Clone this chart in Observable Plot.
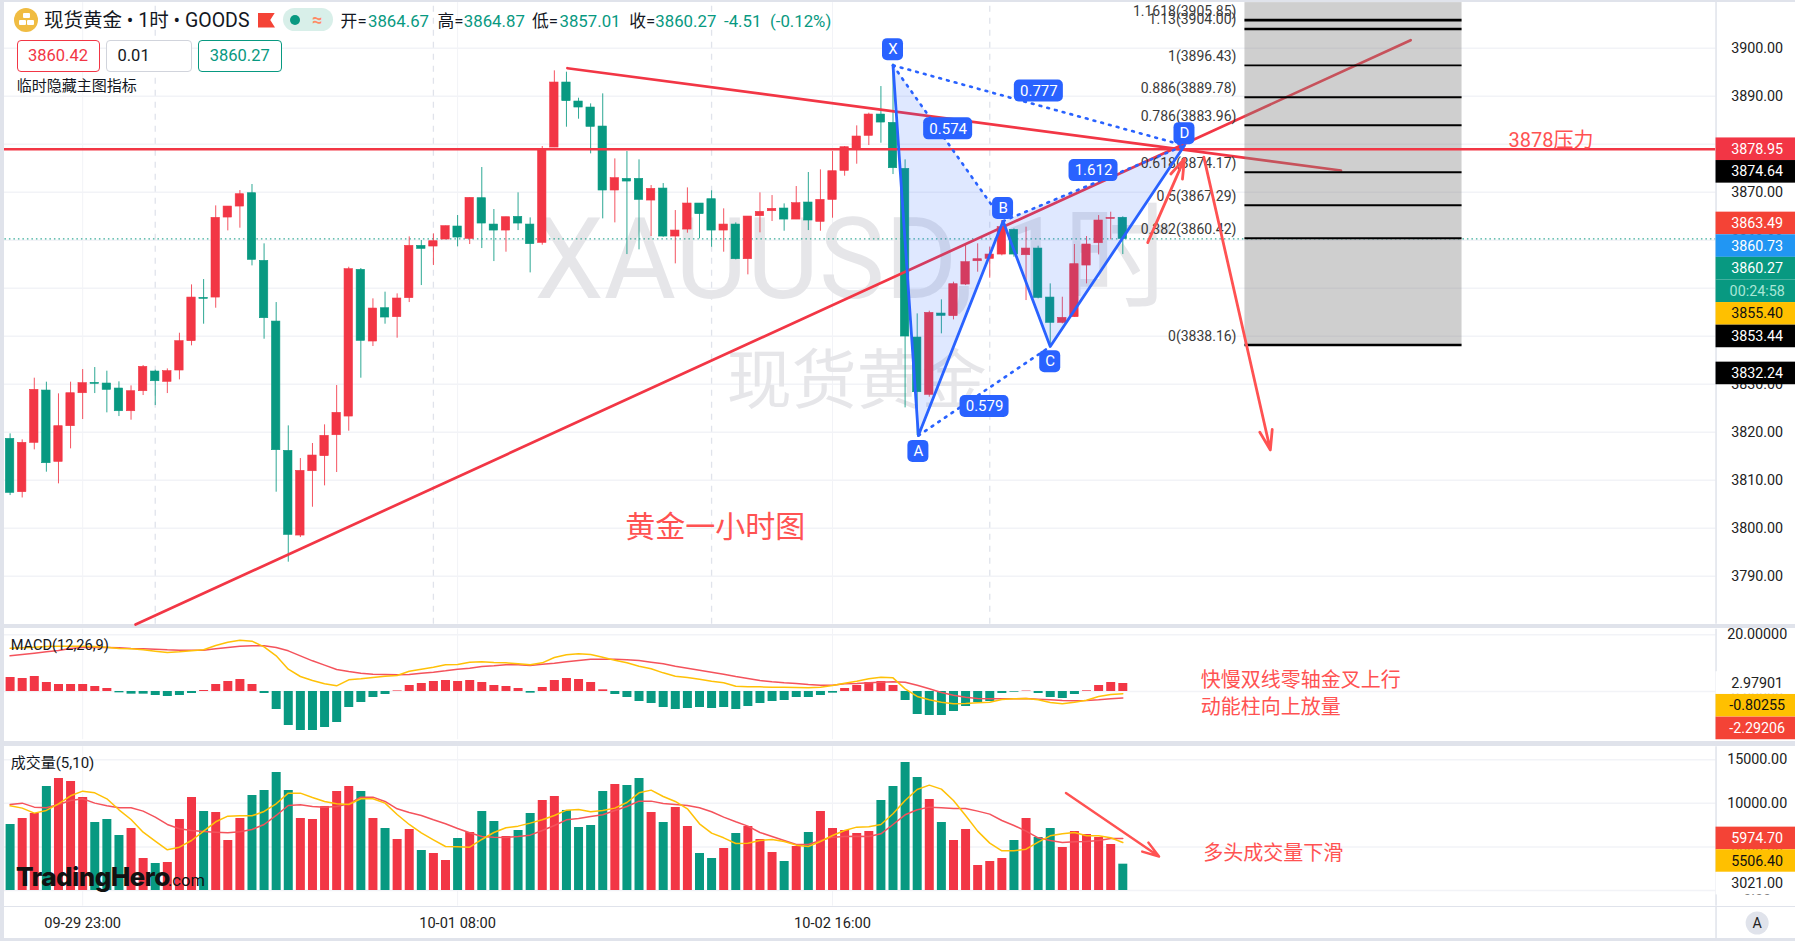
<!DOCTYPE html>
<html>
<head>
<meta charset="utf-8">
<script src="https://cdn.jsdelivr.net/npm/d3@7"></script>
<script src="https://cdn.jsdelivr.net/npm/@observablehq/plot@0.6"></script>
<style>
html,body{margin:0;padding:0;background:#e0e3eb;overflow:hidden}
#stage{position:relative;width:1795px;height:941px;overflow:hidden;font-family:Roboto,"Noto Sans CJK SC",sans-serif}
#stage svg{position:absolute;left:0;max-width:none;background:#fff}
.h{position:absolute;white-space:pre;line-height:1;transform:translateY(-50%)}
.b{position:absolute;box-sizing:border-box;background:#fff;border-radius:4px;font-size:16.5px;line-height:29px;text-align:center}
</style>
</head>
<body>
<div id="stage"></div>
<script>
// ---------- candles (XAUUSD, 1h) ----------
const open = [3818.61,3807.50,3817.78,3828.68,3813.82,3821.25,3828.12,3830.28,3830.14,3829.10,
3824.37,3828.54,3832.64,3830.49,3832.85,3838.96,3847.99,3848.05,3864.72,3867.01,
3869.79,3855.69,3843.05,3816.11,3798.47,3811.87,3815.00,3819.37,3823.26,3853.82,
3838.89,3845.83,3843.96,3847.92,3858.82,3858.68,3860.14,3862.85,3860.28,3868.75,
3863.26,3862.01,3864.86,3863.26,3859.44,3879.30,3892.85,3888.89,3887.64,3883.68,
3870.35,3872.78,3872.78,3868.26,3870.76,3860.76,3862.22,3867.64,3868.54,3862.01,
3863.26,3856.04,3865.00,3866.04,3866.60,3864.30,3867.85,3863.82,3868.40,3874.44,
3879.03,3881.74,3886.18,3884.44,3874.86,3839.72,3827.78,3844.72,3844.17,3850.76,
3855.62,3856.11,3857.01,3862.15,3856.87,3858.26,3848.05,3842.78,3843.96,3854.72,
3859.37,3864.44,3864.67];
const close = [3807.36,3817.78,3828.82,3813.54,3821.25,3828.12,3830.21,3830.07,3828.82,3824.37,
3828.54,3833.61,3830.62,3832.71,3838.96,3848.05,3847.78,3864.65,3867.01,3869.58,
3855.90,3843.75,3816.25,3798.61,3811.94,3815.14,3819.24,3824.03,3853.96,3839.03,
3845.76,3843.89,3847.85,3858.82,3858.19,3859.79,3862.92,3860.55,3868.82,3863.47,
3862.01,3864.79,3863.47,3859.17,3878.89,3892.85,3888.96,3887.64,3883.61,3870.35,
3872.92,3872.22,3868.40,3870.69,3860.76,3862.01,3867.64,3865.42,3862.01,3863.26,
3856.04,3864.93,3865.90,3866.53,3864.30,3867.71,3864.10,3868.40,3874.37,3879.37,
3881.60,3886.18,3884.51,3875.00,3839.93,3828.33,3844.86,3844.24,3850.83,3855.42,
3856.04,3857.01,3862.71,3857.01,3858.26,3847.99,3842.78,3843.82,3855.00,3859.10,
3864.10,3864.65,3860.27];
const high = [3819.65,3818.40,3831.25,3830.42,3827.99,3830.42,3833.05,3833.47,3832.71,3830.49,
3829.65,3833.89,3832.92,3833.19,3840.62,3850.69,3851.80,3867.15,3867.01,3870.35,
3871.60,3859.24,3847.01,3821.32,3814.51,3817.64,3821.53,3829.72,3854.37,3854.10,
3847.78,3849.17,3848.82,3860.69,3859.93,3861.32,3862.92,3865.14,3868.82,3875.14,
3866.39,3864.79,3869.86,3864.65,3879.51,3895.28,3895.00,3889.58,3888.40,3890.49,
3876.94,3878.47,3876.74,3871.39,3871.80,3866.18,3870.90,3867.64,3870.28,3866.53,
3863.61,3864.93,3869.86,3869.30,3867.57,3871.18,3874.10,3874.65,3878.47,3879.51,
3883.82,3886.46,3892.01,3896.74,3876.74,3844.65,3845.21,3847.57,3851.25,3858.89,
3859.24,3858.54,3864.10,3862.36,3862.71,3858.75,3850.90,3848.12,3859.10,3860.76,
3865.14,3865.83,3864.87];
const low = [3806.80,3806.30,3816.32,3811.67,3809.24,3816.53,3822.64,3828.05,3824.03,3823.26,
3822.50,3827.64,3825.55,3828.05,3830.90,3837.99,3842.50,3845.83,3861.94,3862.50,
3854.65,3839.37,3807.50,3792.92,3798.05,3804.37,3808.82,3811.60,3820.21,3831.25,
3837.85,3842.50,3839.58,3847.01,3850.55,3854.72,3860.14,3858.61,3859.10,3858.26,
3855.55,3857.50,3862.01,3853.19,3858.96,3879.30,3883.54,3885.21,3877.99,3864.44,
3863.61,3857.01,3857.99,3860.76,3860.62,3855.07,3861.46,3860.28,3858.54,3857.50,
3855.90,3852.78,3861.53,3863.89,3861.87,3864.30,3862.01,3861.87,3864.58,3873.33,
3875.83,3879.72,3880.21,3873.68,3825.07,3819.30,3827.29,3840.49,3843.40,3850.55,
3853.33,3852.08,3856.74,3856.46,3847.43,3847.78,3838.05,3842.57,3843.96,3850.90,
3856.94,3860.07,3857.01];
// ---------- MACD(12,26,9) ----------
const macdHist = [4.94,4.59,5.29,3.17,2.47,2.47,2.47,1.76,1.06,-0.47,
-0.94,-0.94,-1.41,-1.76,-1.41,-0.71,0.35,2.47,3.53,4.23,
2.47,-0.71,-6.35,-11.99,-13.76,-13.76,-12.70,-10.93,-5.64,-3.88,
-2.12,-1.06,0.20,2.12,2.82,3.53,3.88,3.53,3.88,3.17,
2.12,1.76,1.06,-0.59,1.41,3.88,4.59,4.23,3.17,0.59,
-1.06,-2.12,-3.53,-4.23,-5.64,-6.35,-6.00,-5.64,-6.00,-5.64,
-6.35,-5.29,-4.23,-3.53,-3.17,-2.12,-2.12,-1.41,-0.59,1.06,
2.12,3.17,3.53,2.12,-3.17,-8.11,-8.47,-8.47,-7.05,-5.29,
-3.88,-3.53,-0.71,-0.24,0.15,-0.71,-2.12,-2.47,-1.06,0.24,
2.12,3.17,2.82];
const macdDif = [15.29,15.40,15.64,15.87,15.99,15.99,15.99,15.87,15.64,15.17,
15.05,14.70,14.23,13.76,13.99,14.34,14.70,16.23,17.40,18.11,
17.75,15.76,12.58,7.88,5.29,3.88,2.70,2.00,4.12,4.47,
4.94,5.41,5.64,7.17,7.88,8.58,9.41,9.52,10.35,10.46,
10.23,10.11,9.76,9.41,10.11,11.99,12.93,13.29,13.05,12.11,
11.05,10.11,8.94,8.00,6.58,5.41,4.94,4.35,3.64,3.06,
1.88,1.65,1.65,1.53,1.53,1.41,1.29,1.53,2.12,2.94,
3.64,4.47,5.06,4.82,0.94,-1.76,-2.94,-3.76,-4.35,-4.23,
-4.00,-3.76,-2.82,-2.59,-2.47,-2.94,-3.88,-4.35,-3.76,-3.06,
-1.76,-1.06,-0.80];
const macdDea = [12.58,13.05,13.52,13.99,14.46,15.17,15.52,15.64,15.52,15.40,
15.17,15.05,14.93,14.70,14.58,14.58,14.58,15.05,15.52,15.99,
16.11,16.11,15.52,14.34,12.58,10.82,9.29,7.76,7.05,6.47,
6.11,6.00,5.88,6.00,6.47,6.82,7.29,7.88,8.23,8.82,
9.05,9.41,9.41,9.17,9.64,9.99,10.46,10.93,11.41,11.41,
11.41,11.17,10.93,10.35,9.76,8.94,8.23,7.53,6.82,6.11,
5.29,4.59,3.88,3.41,3.06,2.82,2.47,2.23,2.23,2.70,
2.82,3.06,3.29,3.41,3.29,2.23,0.94,-0.35,-1.29,-2.00,
-2.47,-2.59,-2.59,-2.59,-2.47,-2.70,-2.94,-3.17,-3.29,-3.17,
-2.94,-2.59,-2.29];
// ---------- volume(5,10) ----------
const volume = [7577,8266,8840,11940,12859,12514,10677,7807,8152,6315,
7118,3674,3100,3215,8152,10677,9070,8955,5741,8266,
10907,11481,13548,11481,8266,8152,9644,11366,11940,11366,
8266,7118,5855,7003,4592,4248,3444,5970,6659,9070,
7922,6200,6889,8840,10333,10792,9185,7233,7463,11366,
12170,12055,12859,8955,7807,9529,7348,4248,3674,4822,
6544,7348,5855,4363,3329,5052,6659,9070,7118,6889,
6544,6774,10333,11940,14696,12974,10448,7807,5741,7003,
2870,3329,3674,5741,8266,6085,7118,4937,6774,6429,
6085,5281,3021];
const volMa5 = [9721,9453,8879,9185,9950,10869,11404,11213,10524,9261,
8152,6697,5664,4669,4975,5741,6812,7884,8534,8572,
8572,9070,9950,11175,11175,10677,10218,9950,9874,10524,
10524,10027,8726,7577,6621,5817,5052,5013,4975,5855,
6659,7195,7386,7731,8113,8611,9223,9300,9032,9185,
9453,10103,11213,11519,10792,10218,9376,7654,6582,6047,
5396,5434,5741,5855,5626,5205,5052,5626,6315,6889,
7271,7310,7577,8802,10333,11596,12093,11634,10333,8611,
6812,5434,4554,4554,4745,5549,6276,6506,6659,6276,
6276,6047,5506.4];
const volMa10 = [9874,10027,9568,9491,9874,10333,10524,10027,9721,9491,
9491,9108,8419,7577,7080,6889,6774,6697,6621,6736,
7003,7577,8611,9759,9835,9644,9568,9644,9950,10716,
10716,10218,9376,8955,8611,8113,7654,7118,6621,6200,
6123,6085,6200,6353,6889,7463,8113,8266,8496,8687,
9185,9644,10256,10256,9988,9874,9759,9491,9032,8419,
7884,7386,6659,6200,5741,5281,5281,5741,6123,6200,
6238,6200,6506,7577,8687,9261,9568,9491,9414,9414,
9108,8764,8037,7463,6812,6047,5741,5511,5587,5626,
5741,5970,5974.7];
// ---------- annotations ----------
const fibRatio = ["1.1618","1.13","1","0.886","0.786","0.618","0.5","0.382","0"];
const fibPrice = [3905.85,3904.00,3896.43,3889.78,3883.96,3874.17,3867.29,3860.42,3838.16];
const patternName = ["X","A","B","C","D"];
const patternBar = [73,75.1,82.1,86,97.1];
const patternPrice = [3896.43,3819.3,3863.96,3837.85,3879.73];
const patternTagPrice = [3899.7,3816,3866.6,3834.7,3882.2];
const ratioText = ["0.777","0.574","1.612","0.579"];
const ratioBar = [85.06,77.56,89.58,80.57];
const ratioPrice = [3891.1,3883.2,3874.5,3825.35];
const timeBars = [6,37,68];
const timeLabels = ["09-29 23:00","10-01 08:00","10-02 16:00"];
const sessionBars = [12,35,58,81];
const priceTicks = [3900,3890,3880,3870,3860,3850,3840,3830,3820,3810,3800,3790];
const mainTagValue = [3878.95,3874.64,3863.49,3860.73,3860.27,3860.27,3855.40,3853.44,3832.24];
const mainTagText = ["3878.95","3874.64","3863.49","3860.73","3860.27","00:24:58","3855.40","3853.44","3832.24"];
const mainTagFill = ["#f23645","#000000","#f44336","#2196f3","#089981","#089981","#ffc000","#000000","#000000"];
const mainTagInk = ["#fff","#fff","#fff","#fff","#fff","#a8e6d6","#111","#fff","#fff"];
const macdTagValue = [2.97901,-0.80255,-2.29206];
const macdTagText = ["2.97901","-0.80255","-2.29206"];
const macdTagFill = ["#ffffff","#ffc000","#f44336"];
const macdTagInk = ["#222","#111","#fff"];
const volTagValue = [5974.70,5506.40,3021.00];
const volTagText = ["5974.70","5506.40","3021.00"];
const volTagFill = ["#f44336","#ffc000","#ffffff"];
const volTagInk = ["#fff","#111","#222"];

[open,close,high,low,macdHist,macdDif,macdDea,volume,volMa5,volMa10].forEach((a,k)=>{ if(a.length!==93) throw new Error("series "+k+" has "+a.length); });

// ---------- helpers ----------
const RED="#f23645", GREEN="#089981", NOTE="#ff5252", BLUE="#2962ff", GRID="#f2f3f7", AXIS="#e0e3eb", AMBER="#ffc107";
const FONT='Roboto,"Noto Sans CJK SC",sans-serif';
const stage=document.getElementById("stage");
const bars=d3.range(93).map(i=>({i,o:open[i],c:close[i],h:high[i],l:low[i],up:close[i]>=open[i],
  hist:macdHist[i],dif:macdDif[i],dea:macdDea[i],v:volume[i],m5:volMa5[i],m10:volMa10[i]}));
const hue=d=>d.up?RED:GREEN;
const xScale={type:"linear",domain:[0,92],range:[9.6,1122.3],axis:null};
const paneEnd=141.05, paneStart=-0.8, tagMid=144.45, frameEnd=148;
function plot(top,height,y,marks){
  const svg=Plot.plot({width:1795,height,marginTop:0,marginBottom:0,marginLeft:0,marginRight:0,
    x:xScale,y:{type:"linear",axis:null,...y},
    style:{fontFamily:FONT,background:"#fff",overflow:"visible"},marks});
  svg.style.top=top+"px"; stage.appendChild(svg); return svg;
}
function stacked(values,step){let prev=Infinity;return values.map(v=>(prev=Math.min(v,prev-step)));}
function tags(values,texts,fills,inks,step){
  const ys=stacked(values,step), t=values.map((v,k)=>({y:ys[k],text:texts[k],fill:fills[k],ink:inks[k]}));
  return [
    Plot.rect(t,{x1:paneEnd,x2:frameEnd,y1:"y",y2:"y",insetTop:-11.3,insetBottom:-11.3,fill:"fill"}),
    Plot.text(t,{x:tagMid,y:"y",text:"text",fill:"ink",fontSize:14.3})
  ];
}
const ident=d=>d;
function paneGuides(grid,ymin,ymax){
  return [
    Plot.ruleY(grid,{y:ident,x1:paneStart,x2:paneEnd,stroke:GRID,strokeWidth:1.5}),
    Plot.ruleX(timeBars,{x:ident,y1:ymin,y2:ymax,stroke:GRID,strokeWidth:1})
  ];
}
const axisLine=(a,b)=>Plot.ruleX([paneEnd],{x:ident,y1:a,y2:b,stroke:AXIS,strokeWidth:1.5});

// ---------- main pane ----------
const yMain={domain:[3900,3800],range:[47.7,527.7]};
const fibs=fibPrice.map((p,k)=>({p,label:`${fibRatio[k]}(${p.toFixed(2)})`,w:k<2?2.6:(k===8?2.4:1.9)}));
const pts=patternName.map((n,k)=>({n,x:patternBar[k],y:patternPrice[k],ty:patternTagPrice[k]}));
const ratios=ratioText.map((t,k)=>({t,x:ratioBar[k],y:ratioPrice[k]}));
const [X,A,B,C,D]=pts;
const mainSvg=plot(0,624,yMain,[
  ...paneGuides(priceTicks,3780,3909.5),
  Plot.ruleX(sessionBars,{x:ident,y1:3780,y2:3909.5,stroke:AXIS,strokeWidth:1.3,strokeDasharray:"6 6"}),
  Plot.text(["XAUUSD, 1时"],{x:69.8,y:3855.6,text:ident,fontSize:114,fill:"#e6e6e9"}),
  Plot.text(["现货黄金"],{x:70,y:3830.5,text:ident,fontSize:65,fill:"#e6e6e9"}),
  Plot.ruleY([close[92]],{y:ident,x1:paneStart,x2:paneEnd,stroke:GREEN,strokeWidth:1,strokeDasharray:"1.5 3"}),
  Plot.ruleX(bars,{x:"i",y1:"l",y2:"h",stroke:hue,strokeWidth:1,strokeOpacity:.85}),
  Plot.rect(bars,{x1:"i",x2:"i",y1:"o",y2:"c",insetLeft:-4.2,insetRight:-4.2,fill:hue,stroke:hue,strokeWidth:.6}),
  Plot.line([{x:46.08,y:3895.83},{x:110.04,y:3874.52}],{x:"x",y:"y",stroke:RED,strokeWidth:2.7}),
  Plot.line([{x:10.37,y:3779.94},{x:115.8,y:3901.67}],{x:"x",y:"y",stroke:RED,strokeWidth:2.7}),
  Plot.line([X,A,B],{x:"x",y:"y",fill:BLUE,fillOpacity:.15,stroke:"none"}),
  Plot.line([B,C,D],{x:"x",y:"y",fill:BLUE,fillOpacity:.15,stroke:"none"}),
  Plot.rect([0],{x1:102.1,x2:120.05,y1:3838.16,y2:3909.5,fill:"#808080",fillOpacity:.38}),
  Plot.ruleY(fibs,{y:"p",x1:102.1,x2:120.05,stroke:"#000",strokeWidth:"w"}),
  Plot.text(fibs,{x:101.4,y:"p",dy:-9,text:"label",textAnchor:"end",fontSize:14,fill:"#3a3a3a"}),
  Plot.ruleY([mainTagValue[0]],{y:ident,x1:paneStart,x2:paneEnd,stroke:RED,strokeWidth:2.6}),
  ...[[X,B],[X,D],[A,C],[B,D]].map(seg=>Plot.line(seg,{x:"x",y:"y",stroke:BLUE,strokeWidth:2.6,strokeDasharray:"1.8 6.2"})),
  Plot.line(pts,{x:"x",y:"y",stroke:BLUE,strokeWidth:2.8}),
  Plot.rect(pts,{x1:"x",x2:"x",y1:"ty",y2:"ty",insetLeft:-10.5,insetRight:-10.5,insetTop:-11,insetBottom:-11,fill:BLUE,rx:5}),
  Plot.text(pts,{x:"x",y:"ty",text:"n",fill:"#fff",fontSize:15}),
  Plot.rect(ratios,{x1:"x",x2:"x",y1:"y",y2:"y",insetLeft:-24.5,insetRight:-24.5,insetTop:-11,insetBottom:-11,fill:BLUE,rx:5}),
  Plot.text(ratios,{x:"x",y:"y",text:"t",fill:"#fff",fontSize:15}),
  Plot.arrow([{x1:94.06,y1:3859.5,x2:97.1,y2:3877.0}],{x1:"x1",y1:"y1",x2:"x2",y2:"y2",bend:0,stroke:NOTE,strokeWidth:2.8,headLength:11,headAngle:36}),
  Plot.arrow([{x1:98.7,y1:3877.3,x2:104.2,y2:3816.3}],{x1:"x1",y1:"y1",x2:"x2",y2:"y2",bend:0,stroke:NOTE,strokeWidth:2.8,headLength:11,headAngle:36}),
  Plot.text(["3878压力"],{x:123.9,y:3880.7,text:ident,textAnchor:"start",fontSize:20,fill:NOTE}),
  Plot.text(["黄金一小时图"],{x:58.3,y:3800.1,text:ident,fontSize:30,fill:NOTE}),
  axisLine(3780,3909.5),
  Plot.text(priceTicks,{x:tagMid,y:ident,text:d=>d.toFixed(2),fontSize:14.3,fill:"#222"}),
  ...tags(mainTagValue,mainTagText,mainTagFill,mainTagInk,22.6/4.8)
]);
const wm=[...mainSvg.querySelectorAll("text")].find(t=>t.textContent.startsWith("XAUUSD"));
if(wm){wm.setAttribute("textLength",640);wm.setAttribute("lengthAdjust","spacingAndGlyphs");}

// ---------- MACD pane ----------
plot(628,113,{domain:[0,20],range:[63,6.3]},[
  ...paneGuides([20,0],-17,22),
  Plot.ruleX(bars,{x:"i",y1:0,y2:"hist",stroke:d=>d.hist>=0?RED:GREEN,strokeWidth:9}),
  Plot.line(bars,{x:"i",y:"dea",stroke:"#f4535c",strokeWidth:1.5}),
  Plot.line(bars,{x:"i",y:"dif",stroke:AMBER,strokeWidth:1.5}),
  Plot.text(["快慢双线零轴金叉上行"],{x:98.45,y:3.72,text:ident,textAnchor:"start",fontSize:20,fill:NOTE}),
  Plot.text(["动能柱向上放量"],{x:98.45,y:-5.7,text:ident,textAnchor:"start",fontSize:20,fill:NOTE}),
  axisLine(-17,22),
  Plot.text([20,0],{x:tagMid,y:ident,text:d=>d.toFixed(5),fontSize:14.3,fill:"#222"}),
  ...tags(macdTagValue,macdTagText,macdTagFill,macdTagInk,22.7/2.835)
]);

// ---------- volume pane ----------
const volPerPx=15000/(144-13.3);
plot(746,160,{domain:[0,15000],range:[144,13.3]},[
  ...paneGuides([15000,10000,5000,0],-1800,16500),
  Plot.ruleX(bars,{x:"i",y1:0,y2:"v",stroke:hue,strokeWidth:9}),
  Plot.line(bars,{x:"i",y:"m10",stroke:"#f4535c",strokeWidth:1.5}),
  Plot.line(bars,{x:"i",y:"m5",stroke:AMBER,strokeWidth:1.5}),
  Plot.arrow([{x1:87.3,y1:11200,x2:95,y2:3900}],{x1:"x1",y1:"y1",x2:"x2",y2:"y2",bend:0,stroke:NOTE,strokeWidth:2.4,headLength:11,headAngle:36}),
  Plot.text(["多头成交量下滑"],{x:98.65,y:4233,text:ident,textAnchor:"start",fontSize:20,fill:NOTE}),
  axisLine(-1800,16500),
  Plot.text([15000,10000,5000,0],{x:tagMid,y:ident,text:d=>d.toFixed(2),fontSize:14.3,fill:"#222"}),
  ...tags(volTagValue,volTagText,volTagFill,volTagInk,22.6*volPerPx)
]);

// ---------- time axis ----------
plot(907.3,31,{domain:[0,1],range:[31,0]},[
  Plot.text(timeLabels,{x:(d,k)=>timeBars[k],y:.5,text:ident,fontSize:14.6,fill:"#222"}),
  axisLine(0,1),
  Plot.dot(["A"],{x:tagMid,y:.5,r:11.5,fill:AXIS}),
  Plot.text(["A"],{x:tagMid,y:.5,text:ident,fontSize:14.3,fill:"#222"})
]);

// ---------- overlays (legend strip, frame) ----------
function div(css,cls,text){const d=document.createElement("div");if(cls)d.className=cls;d.style.cssText=css;if(text!=null)d.textContent=text;stage.appendChild(d);return d;}
div("position:absolute;left:0;top:0;width:3.5px;height:941px;background:#e0e3eb");
div("position:absolute;left:0;top:0;width:1795px;height:2px;background:#e0e3eb");
div("position:absolute;left:0;top:938px;width:1795px;height:3px;background:#e0e3eb");
// instrument icon
div("position:absolute;left:14px;top:7.5px;width:24px;height:24px;border-radius:50%;background:#f0bc42");
[[23,13],[19,20],[27,20]].forEach(([l,t])=>div(`position:absolute;left:${l}px;top:${t}px;width:6.5px;height:5px;background:#fff;border-radius:1px`));
div("left:44px;top:20.5px;font-size:19.5px;color:#131722","h","现货黄金 • 1时 • GOODS");
div("position:absolute;left:258px;top:12.5px;width:17px;height:15px;background:#f44336;clip-path:polygon(0 0,100% 0,72% 50%,100% 100%,0 100%)");
div("position:absolute;left:283px;top:8px;width:50px;height:23px;border-radius:11.5px;background:#d8efe9");
div("position:absolute;left:290px;top:14.5px;width:10px;height:10px;border-radius:50%;background:#089981");
div("left:312px;top:19.5px;font-size:18px;color:#ff8a65;font-weight:bold","h","≈");
const legend=[[340.6,"开=","#131722"],[368,"3864.67",GREEN],[437.4,"高=","#131722"],[463.8,"3864.87",GREEN],[532,"低=","#131722"],[559.5,"3857.01",GREEN],[629.3,"收=","#131722"],[655.3,"3860.27",GREEN],[724,"-4.51",GREEN],[770,"(-0.12%)",GREEN]];
legend.forEach(([l,t,c])=>div(`left:${l}px;top:20.5px;font-size:16.8px;color:${c}`,"h",t));
div("left:16.5px;top:39.5px;width:83px;height:32px;border:1.4px solid #f23645;color:#f23645","b","3860.42");
div("left:105.5px;top:39.5px;width:86px;height:32px;border:1.4px solid #d1d4dc;color:#131722;text-align:left;padding-left:11px","b","0.01");
div("left:198px;top:39.5px;width:83.5px;height:32px;border:1.4px solid #089981;color:#089981","b","3860.27");
div("left:16.8px;top:85.7px;font-size:15px;color:#131722","h","临时隐藏主图指标");
div("left:10.7px;top:645px;font-size:14.6px;color:#131722","h","MACD(12,26,9)");
div("left:10.7px;top:763.3px;font-size:15px;color:#131722","h","成交量(5,10)");
div("left:16px;top:877px;font-size:26px;font-weight:800;color:#111;font-family:Inter,Roboto,sans-serif;letter-spacing:-.6px","h","TradingHero");
div("left:168px;top:881px;font-size:16.5px;color:#111","h",".com");
</script>
</body>
</html>
